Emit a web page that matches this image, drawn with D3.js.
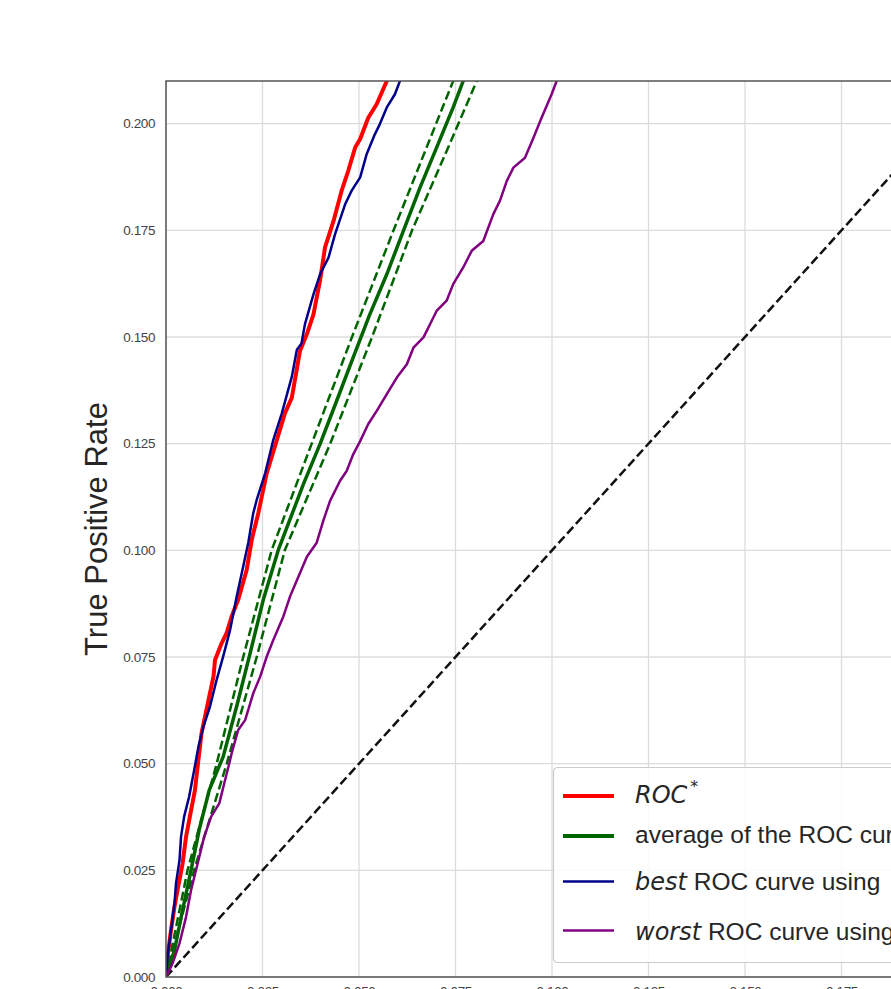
<!DOCTYPE html>
<html>
<head>
<meta charset="utf-8">
<script src="https://cdn.jsdelivr.net/npm/d3@7"></script>
<style>
    body { margin: 0; background: #fff; }
    svg { display: block; }
</style>
</head>
<body>
<div id="chart"></div>
<script>
    // data: [false positive rate, true positive rate]
    var rocStar = [
        [0, 0], [0.0004, 0.0048], [0.0013, 0.0110], [0.0022, 0.0165], [0.0030, 0.0204],
        [0.0043, 0.0266], [0.0052, 0.0329], [0.0065, 0.0391], [0.0075, 0.0438], [0.0084, 0.0509],
        [0.0092, 0.0571], [0.0101, 0.0610], [0.0110, 0.0649], [0.0123, 0.0704], [0.0127, 0.0743],
        [0.0144, 0.0782], [0.0157, 0.0806], [0.0170, 0.0845], [0.0187, 0.0884], [0.0209, 0.0954],
        [0.0222, 0.1024], [0.0239, 0.1087], [0.0261, 0.1181], [0.0282, 0.1243], [0.0308, 0.1321],
        [0.0326, 0.1358], [0.0347, 0.1467], [0.0365, 0.1507], [0.0382, 0.1553], [0.0399, 0.1632],
        [0.0412, 0.1710], [0.0434, 0.1772], [0.0455, 0.1843], [0.0472, 0.1889], [0.0490, 0.1944],
        [0.0503, 0.1964], [0.0524, 0.2014], [0.0546, 0.2046], [0.0572, 0.2100], [0.0580, 0.2120]
    ];

    var rocAverage = [
        [0, 0], [0.0022, 0.0063], [0.0043, 0.0157], [0.0065, 0.0251], [0.0086, 0.0345],
        [0.0112, 0.0438], [0.0148, 0.0516], [0.0183, 0.0634], [0.0218, 0.0759], [0.0252, 0.0884],
        [0.0291, 0.1001], [0.0313, 0.1053], [0.0356, 0.1155], [0.0399, 0.1249], [0.0442, 0.1350],
        [0.0485, 0.1452], [0.0528, 0.1553], [0.0572, 0.1647], [0.0615, 0.1749], [0.0658, 0.1850],
        [0.0701, 0.1944], [0.0744, 0.2038], [0.0770, 0.2100], [0.0780, 0.2120]
    ];

    var rocAverageUpper = [
        [0, 0], [0.0056, 0.0251], [0.0131, 0.0499], [0.0200, 0.0750], [0.0274, 0.1001],
        [0.0377, 0.1249], [0.0481, 0.1498], [0.0589, 0.1749], [0.0675, 0.1944], [0.0744, 0.2100],
        [0.0752, 0.2120]
    ];

    var rocAverageLower = [
        [0, 0], [0.0073, 0.0251], [0.0157, 0.0499], [0.0235, 0.0750], [0.0308, 0.1001],
        [0.0425, 0.1249], [0.0533, 0.1498], [0.0637, 0.1749], [0.0731, 0.1944], [0.0805, 0.2100],
        [0.0813, 0.2120]
    ];

    var rocBest = [
        [0, 0], [0.0004, 0.0048], [0.0013, 0.0110], [0.0022, 0.0173], [0.0026, 0.0220],
        [0.0035, 0.0274], [0.0039, 0.0329], [0.0047, 0.0376], [0.0060, 0.0423], [0.0073, 0.0485],
        [0.0084, 0.0540], [0.0097, 0.0587], [0.0114, 0.0634], [0.0131, 0.0696], [0.0148, 0.0751],
        [0.0166, 0.0813], [0.0183, 0.0891], [0.0200, 0.0962], [0.0213, 0.1017], [0.0226, 0.1087],
        [0.0235, 0.1118], [0.0257, 0.1181], [0.0278, 0.1259], [0.0300, 0.1321], [0.0326, 0.1407],
        [0.0339, 0.1470], [0.0351, 0.1485], [0.0360, 0.1530], [0.0382, 0.1600], [0.0399, 0.1647],
        [0.0421, 0.1686], [0.0438, 0.1741], [0.0464, 0.1811], [0.0481, 0.1843], [0.0503, 0.1874],
        [0.0520, 0.1929], [0.0541, 0.1975], [0.0554, 0.1999], [0.0572, 0.2038], [0.0593, 0.2069],
        [0.0606, 0.2100], [0.0612, 0.2120]
    ];

    var rocWorst = [
        [0, 0], [0.0017, 0.0032], [0.0035, 0.0079], [0.0052, 0.0141], [0.0065, 0.0204],
        [0.0082, 0.0266], [0.0099, 0.0329], [0.0117, 0.0376], [0.0138, 0.0407], [0.0151, 0.0454],
        [0.0164, 0.0501], [0.0170, 0.0524], [0.0187, 0.0579], [0.0205, 0.0602], [0.0226, 0.0665],
        [0.0244, 0.0704], [0.0261, 0.0751], [0.0278, 0.0790], [0.0304, 0.0845], [0.0321, 0.0891],
        [0.0343, 0.0938], [0.0365, 0.0985], [0.0390, 0.1017], [0.0408, 0.1071], [0.0425, 0.1116],
        [0.0451, 0.1163], [0.0468, 0.1186], [0.0485, 0.1225], [0.0503, 0.1256], [0.0524, 0.1296],
        [0.0546, 0.1327], [0.0572, 0.1366], [0.0598, 0.1405], [0.0624, 0.1436], [0.0641, 0.1475],
        [0.0667, 0.1499], [0.0684, 0.1530], [0.0701, 0.1561], [0.0727, 0.1585], [0.0744, 0.1624],
        [0.0770, 0.1663], [0.0792, 0.1702], [0.0822, 0.1725], [0.0848, 0.1788], [0.0865, 0.1819],
        [0.0883, 0.1866], [0.0900, 0.1897], [0.0930, 0.1920], [0.0952, 0.1967], [0.0973, 0.2014],
        [0.0999, 0.2069], [0.1012, 0.2100], [0.1020, 0.2120]
    ];

    var chance = [[0, 0], [0.21, 0.21]];

    var xTicks = [0, 0.025, 0.05, 0.075, 0.1, 0.125, 0.15, 0.175, 0.2];
    var yTicks = [0, 0.025, 0.05, 0.075, 0.1, 0.125, 0.15, 0.175, 0.2];
    var xMax = 0.21, yMax = 0.21;

    var legendItems = [
        { color: '#ff0000', width: 4, math: 'ROC', sup: '*', text: '' },
        { color: '#006400', width: 4, math: '', sup: '', text: 'average of the ROC curves' },
        { color: '#00008b', width: 2.5, math: 'best', sup: '', text: ' ROC curve using' },
        { color: '#800080', width: 2.5, math: 'worst', sup: '', text: ' ROC curve using' }
    ];

    // layout
    var W = 891, H = 989;
    var margin = { left: 166, top: 81 };
    var width = 810.6, height = 896;

    var svg = d3.select('#chart').append('svg')
        .attr('width', W)
        .attr('height', H);

    var g = svg.append('g')
        .attr('transform', 'translate(' + margin.left + ',' + margin.top + ')');

    var x = d3.scaleLinear().domain([0, xMax]).range([0, width]);
    var y = d3.scaleLinear().domain([0, yMax]).range([height, 0]);

    // grid
    g.append('g').selectAll('line')
        .data(xTicks)
        .enter().append('line')
            .attr('x1', d => x(d)).attr('x2', d => x(d))
            .attr('y1', 0).attr('y2', height)
            .attr('stroke', '#dcdcdc').attr('stroke-width', 1.3);

    g.append('g').selectAll('line')
        .data(yTicks)
        .enter().append('line')
            .attr('x1', 0).attr('x2', width)
            .attr('y1', d => y(d)).attr('y2', d => y(d))
            .attr('stroke', '#dcdcdc').attr('stroke-width', 1.3);

    // axes (x tick labels sit just below the bottom edge, as in the cropped original)
    var xAxis = g.append('g')
        .attr('transform', 'translate(0,' + height + ')')
        .call(d3.axisBottom(x).tickValues(xTicks).tickFormat(d3.format('.3f')).tickSize(0).tickPadding(9));

    var yAxis = g.append('g')
        .call(d3.axisLeft(y).tickValues(yTicks).tickFormat(d3.format('.3f')).tickSize(0).tickPadding(11));

    [xAxis, yAxis].forEach(function(a) {
        a.select('.domain').remove();
        a.selectAll('text')
            .attr('fill', '#444')
            .style('font-family', '"Liberation Sans", Arial, sans-serif')
            .style('font-size', '13.5px')
            .style('letter-spacing', '-0.4px');
    });

    // curves
    svg.append('clipPath').attr('id', 'plot-clip')
        .append('rect')
            .attr('x', 0).attr('y', 0)
            .attr('width', width).attr('height', height);

    var line = d3.line()
        .x(d => x(d[0]))
        .y(d => y(d[1]));

    var curves = g.append('g').attr('clip-path', 'url(#plot-clip)');

    var drawCurve = function(data, color, lw, dash) {
        curves.append('path')
            .datum(data)
            .attr('d', line)
            .attr('fill', 'none')
            .attr('stroke', color)
            .attr('stroke-width', lw)
            .attr('stroke-linejoin', 'round')
            .attr('stroke-dasharray', dash || null);
    }

    drawCurve(chance, '#111', 2.5, '9,4');
    drawCurve(rocStar, '#ff0000', 4);
    drawCurve(rocAverage, '#006400', 3.5);
    drawCurve(rocAverageUpper, '#006400', 2.5, '9,4');
    drawCurve(rocAverageLower, '#006400', 2.5, '9,4');
    drawCurve(rocBest, '#00008b', 2.5);
    drawCurve(rocWorst, '#800080', 2.5);

    // frame
    g.append('rect')
        .attr('width', width).attr('height', height)
        .attr('fill', 'none')
        .attr('stroke', '#555')
        .attr('stroke-width', 1.5);

    // y label
    svg.append('text')
        .attr('transform', 'translate(107,529) rotate(-90)')
        .attr('text-anchor', 'middle')
        .attr('fill', '#262626')
        .style('font-family', '"Liberation Sans", Arial, sans-serif')
        .style('font-size', '31px')
        .text('True Positive Rate');

    // legend
    var legend = svg.append('g').attr('transform', 'translate(553,767)');

    legend.append('rect')
        .attr('x', 0.5).attr('y', 0.5)
        .attr('width', 420).attr('height', 195)
        .attr('rx', 4)
        .attr('fill', '#fff')
        .attr('fill-opacity', 0.85)
        .attr('stroke', '#cccccc')
        .attr('stroke-width', 1.2);

    var rowY = [29, 69, 114.5, 163.5];
    var textY = [36, 76, 123, 173];

    var rows = legend.selectAll('.row')
        .data(legendItems)
        .enter().append('g')
            .attr('class', 'row');

    rows.append('line')
        .attr('x1', 10).attr('x2', 61)
        .attr('y1', (d, i) => rowY[i]).attr('y2', (d, i) => rowY[i])
        .attr('stroke', d => d.color)
        .attr('stroke-width', d => d.width);

    var label = rows.append('text')
        .attr('x', 82).attr('y', (d, i) => textY[i])
        .attr('fill', '#262626')
        .style('font-family', '"Liberation Sans", Arial, sans-serif')
        .style('font-size', '24.5px');

    label.append('tspan')
        .style('font-family', '"DejaVu Sans", sans-serif')
        .style('font-style', 'italic')
        .style('font-size', '24px')
        .text(d => d.math);

    label.append('tspan')
        .attr('dy', d => d.sup ? -11 : 0)
        .attr('dx', d => d.sup ? 3 : 0)
        .style('font-family', '"DejaVu Sans", sans-serif')
        .style('font-size', '16px')
        .text(d => d.sup);

    label.append('tspan')
        .text(d => d.text);
</script>
</body>
</html>
